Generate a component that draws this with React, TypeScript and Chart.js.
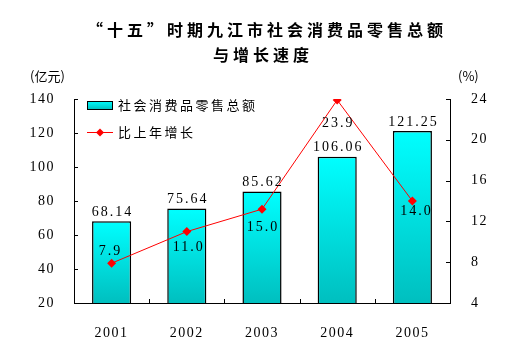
import React, { useEffect, useRef } from "react";
import { Chart, registerables } from "chart.js";

Chart.register(...registerables);

const titleLines = ["“十五”时期九江市社会消费品零售总额", "与增长速度"];
const years = ["2001", "2002", "2003", "2004", "2005"];
const salesTotal = [68.14, 75.64, 85.62, 106.06, 121.25];
const growthRate = [7.9, 11.0, 13.2, 23.9, 14.0];
const growthLabels = ["7.9", "11.0", "15.0", "23.9", "14.0"];
const leftTicks = [20, 40, 60, 80, 100, 120, 140];
const rightTicks = [4, 8, 12, 16, 20, 24];
const seriesNames = ["社会消费品零售总额", "比上年增长"];
const unitLeft = "(亿元)";
const unitRight = "(%)";

// label offsets (styling only)
const growthLabelOffsets = [
  [-2, -12],
  [1, 16],
  [0, 18],
  [0, 23],
  [3, 10],
];

const NUM_FONT = "'Liberation Serif'";
const CJK_FONT = "'Noto Sans CJK SC'";

function diamond(ctx: CanvasRenderingContext2D, x: number, y: number, r: number) {
  ctx.beginPath();
  ctx.moveTo(x, y - r);
  ctx.lineTo(x + r, y);
  ctx.lineTo(x, y + r);
  ctx.lineTo(x - r, y);
  ctx.closePath();
  ctx.fill();
}

const spacing = {
  id: "spacing",
  beforeDraw(chart: any) {
    (chart.ctx as any).letterSpacing = "1.5px";
  },
};

const overlay = {
  id: "overlay",
  afterDraw(chart: any) {
    const ctx: CanvasRenderingContext2D = chart.ctx;
    const { left, right, top, bottom } = chart.chartArea;
    const xs = chart.scales.x;
    const ys = chart.scales.y;
    const y1 = chart.scales.y1;
    ctx.save();

    // inner tick marks
    ctx.strokeStyle = "#000";
    ctx.lineWidth = 1;
    ctx.beginPath();
    leftTicks.forEach((v) => {
      const p = Math.round(ys.getPixelForValue(v)) + 0.5;
      ctx.moveTo(left, p);
      ctx.lineTo(left + 4, p);
    });
    rightTicks.forEach((v) => {
      const p = Math.round(y1.getPixelForValue(v)) + 0.5;
      ctx.moveTo(right - 4, p);
      ctx.lineTo(right, p);
    });
    for (let i = 1; i < years.length; i++) {
      const p = Math.round((xs.getPixelForValue(i - 1) + xs.getPixelForValue(i)) / 2) + 0.5;
      ctx.moveTo(p, bottom - 4);
      ctx.lineTo(p, bottom);
    }
    ctx.stroke();

    // title
    ctx.fillStyle = "#000";
    ctx.textAlign = "center";
    ctx.textBaseline = "middle";
    ctx.font = `bold 16px ${CJK_FONT}`;
    (ctx as any).letterSpacing = "4px";
    ctx.fillText(titleLines[0], 267, 30);
    ctx.fillText(titleLines[1], 263, 55);
    (ctx as any).letterSpacing = "0px";

    // units
    ctx.font = `13px ${CJK_FONT}`;
    ctx.textAlign = "left";
    ctx.fillText(unitLeft, 30, 76);
    ctx.fillText(unitRight, 458, 76);

    // legend
    const grad = ctx.createLinearGradient(0, 101, 0, 109);
    grad.addColorStop(0, "#00ffff");
    grad.addColorStop(1, "#00c4c4");
    ctx.fillStyle = grad;
    ctx.fillRect(87.5, 101.5, 25, 8);
    ctx.strokeStyle = "#000";
    ctx.strokeRect(87.5, 101.5, 25, 8);
    ctx.strokeStyle = "#ff0000";
    ctx.beginPath();
    ctx.moveTo(87, 132.5);
    ctx.lineTo(113, 132.5);
    ctx.stroke();
    ctx.fillStyle = "#ff0000";
    diamond(ctx, 100, 132.5, 4);
    ctx.fillStyle = "#000";
    ctx.font = `13px ${CJK_FONT}`;
    (ctx as any).letterSpacing = "2.5px";
    ctx.textAlign = "left";
    ctx.fillText(seriesNames[0], 118, 105);
    ctx.fillText(seriesNames[1], 118, 132);

    // bar value labels
    (ctx as any).letterSpacing = "2px";
    ctx.font = `14px ${NUM_FONT}`;
    ctx.textAlign = "center";
    ctx.textBaseline = "bottom";
    const barMeta = chart.getDatasetMeta(1);
    barMeta.data.forEach((el: any, i: number) => {
      ctx.fillText(salesTotal[i].toFixed(2), el.x + 1, el.y - 2);
    });

    // growth labels
    ctx.textBaseline = "middle";
    const lineMeta = chart.getDatasetMeta(0);
    lineMeta.data.forEach((el: any, i: number) => {
      const [dx, dy] = growthLabelOffsets[i];
      ctx.fillText(growthLabels[i], el.x + dx + 1, el.y + dy);
    });

    ctx.restore();
  },
};

export default function App() {
  const ref = useRef<HTMLCanvasElement>(null);
  useEffect(() => {
    if (!ref.current) return;
    const chart = new Chart(ref.current, {
      type: "bar",
      data: {
        labels: years,
        datasets: [
          {
            type: "line",
            label: seriesNames[1],
            data: growthRate,
            yAxisID: "y1",
            borderColor: "#ff0000",
            backgroundColor: "#ff0000",
            borderWidth: 1,
            pointStyle: "rectRot",
            pointRadius: 4.5,
            pointBorderWidth: 0,
            tension: 0,
            order: 0,
          } as any,
          {
            type: "bar",
            label: seriesNames[0],
            data: salesTotal,
            yAxisID: "y",
            borderColor: "#000",
            borderWidth: 1.5,
            categoryPercentage: 1,
            barPercentage: 0.52,
            order: 1,
            backgroundColor: (c: any) => {
              const s = c.chart.scales?.y;
              if (!s || c.type !== "data") return "#00e0e0";
              const t = s.getPixelForValue(c.raw);
              const b = s.getPixelForValue(s.min);
              if (!isFinite(t) || !isFinite(b) || t === b) return "#00e0e0";
              const g = c.chart.ctx.createLinearGradient(0, t, 0, b);
              g.addColorStop(0, "#00ffff");
              g.addColorStop(1, "#00bfbf");
              return g;
            },
          } as any,
        ],
      },
      options: {
        animation: false,
        responsive: false,
        layout: { padding: { top: 99, left: 0, right: 0, bottom: 0 } },
        plugins: {
          legend: { display: false },
          tooltip: { enabled: false },
          title: { display: false },
        },
        scales: {
          x: {
            type: "category",
            offset: true,
            grid: { display: false },
            border: { display: true, color: "#000", width: 1 },
            ticks: { color: "#000", font: { family: NUM_FONT, size: 14 }, padding: 14, maxRotation: 0 },
            afterFit: (s: any) => {
              s.height = 49;
            },
          },
          y: {
            position: "left",
            min: 20,
            max: 140,
            grid: { display: false },
            border: { display: true, color: "#000", width: 1 },
            ticks: { stepSize: 20, color: "#000", font: { family: NUM_FONT, size: 14 }, padding: 11 },
            afterFit: (s: any) => {
              s.width = 74;
            },
          },
          y1: {
            position: "right",
            min: 4,
            max: 24,
            grid: { display: false },
            border: { display: true, color: "#000", width: 1 },
            ticks: { stepSize: 4, color: "#000", font: { family: NUM_FONT, size: 14 }, padding: 13 },
            afterFit: (s: any) => {
              s.width = 72;
            },
          },
        },
      },
      plugins: [spacing, overlay],
    });
    return () => chart.destroy();
  }, []);
  return (
    <div style={{ position: "absolute", left: 0, top: 0, width: 522, height: 352, background: "#fff" }}>
      <canvas ref={ref} width={522} height={352} style={{ display: "block" }} />
    </div>
  );
}
